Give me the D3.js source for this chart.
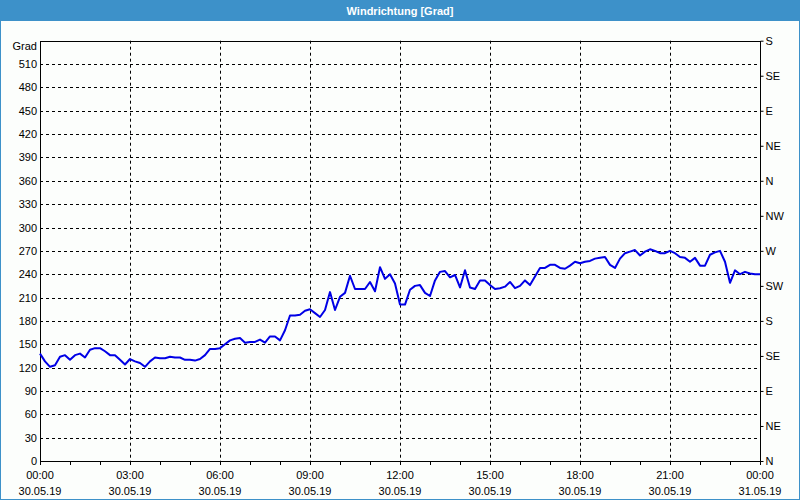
<!DOCTYPE html>
<html><head><meta charset="utf-8">
<script src="https://cdn.jsdelivr.net/npm/d3@7"></script>
<style>
html,body{margin:0;padding:0;background:#fff;}
svg{display:block;font-family:"Liberation Sans",Arial,sans-serif;}
</style></head><body>
<script>
// ---- data ----
const startTime = "2019-05-30T00:00:00";
const endTime = "2019-05-31T00:00:00";
const stepMinutes = 10;
const windDirection = [
138,128,121,123,134,136,130,136,138,133,143,145,145,141,136,136,130,124,131,128,126,121,128,133,132,
132,134,133,133,130,130,129,131,136,144,144,145,150,155,157,158,152,153,153,156,152,160,160,155,168,
187,187,188,193,195,190,185,194,217,194,211,216,238,221,221,221,230,218,249,234,240,228,201,201,220,
225,226,216,212,232,243,244,236,239,223,245,223,221,232,232,226,221,222,224,230,222,225,232,226,237,
248,248,252,252,248,247,251,256,254,256,257,260,261,262,252,248,260,267,269,271,264,269,272,270,267,
267,270,267,262,261,256,261,251,251,265,268,270,256,229,245,240,243,241,240,240];
const leftTicks = [0,30,60,90,120,150,180,210,240,270,300,330,360,390,420,450,480,510];
const rightTicks = [0,45,90,135,180,225,270,315,360,405,450,495,540];
const rightLabels = ["N","NE","E","SE","S","SW","W","NW","N","NE","E","SE","S"];
const title = "Windrichtung [Grad]";
const unitLabel = "Grad";

// ---- layout ----
const W = 800, H = 500;
const m = {left:40, right:760, top:40.7, bottom:461};
const svg = d3.select("body").append("svg").attr("width",W).attr("height",H);
svg.append("rect").attr("x",0).attr("y",0).attr("width",W).attr("height",H).attr("fill","#3d91c9");
svg.append("rect").attr("x",1).attr("y",21).attr("width",W-2).attr("height",H-22).attr("fill","#fcfefc");
svg.append("text").attr("x",W/2).attr("y",15).attr("text-anchor","middle")
  .attr("fill","#fff").attr("font-weight","bold").attr("font-size","11px").text(title);

const t0 = new Date(startTime), t1 = new Date(endTime);
const x = d3.scaleTime().domain([t0,t1]).range([m.left,m.right]);
const y = d3.scaleLinear().domain([0,540]).range([m.bottom,m.top]);
const data = windDirection.map((v,i)=>({t:new Date(t0.getTime()+i*stepMinutes*60000), v}));

const g = svg.append("g");
// grid
const majorTimes = d3.timeHour.every(3).range(t0, d3.timeMinute.offset(t1,1));
g.selectAll(".vg").data(majorTimes.filter(d=>+d>+t0 && +d<+t1)).enter().append("line")
  .attr("x1",d=>Math.round(x(d))+0.5).attr("x2",d=>Math.round(x(d))+0.5)
  .attr("y1",m.top).attr("y2",m.bottom)
  .attr("stroke","#000").attr("stroke-dasharray","3,3").attr("stroke-width",1);
g.selectAll(".hg").data(leftTicks.filter(d=>d>0)).enter().append("line")
  .attr("x1",m.left).attr("x2",m.right)
  .attr("y1",d=>Math.round(y(d))+0.5).attr("y2",d=>Math.round(y(d))+0.5)
  .attr("stroke","#000").attr("stroke-dasharray","3,3").attr("stroke-width",1);

// frame
g.append("rect").attr("x",m.left+0.5).attr("y",Math.round(m.top)+0.5)
  .attr("width",m.right-m.left).attr("height",m.bottom-Math.round(m.top))
  .attr("fill","none").attr("stroke","#000");

// left axis
const ly = d3.axisLeft(y).tickValues(leftTicks).tickSize(0).tickPadding(3);
const lax = svg.append("g").attr("transform",`translate(${m.left},0)`).call(ly);
lax.select(".domain").remove();
lax.selectAll("text").attr("font-size","11px").attr("fill","#000").attr("font-family","Liberation Sans, Arial, sans-serif");
svg.append("text").attr("x",37).attr("y",50).attr("text-anchor","end").attr("font-size","11px").text(unitLabel);

// right axis
const ry = d3.axisRight(y).tickValues(rightTicks).tickSize(3).tickPadding(2)
  .tickFormat((d,i)=>rightLabels[i]);
const rax = svg.append("g").attr("transform",`translate(${m.right+0.5},0)`).call(ry);
rax.select(".domain").remove();
rax.selectAll("line").attr("stroke","#000");
rax.selectAll("text").attr("font-size","11px").attr("fill","#000").attr("font-family","Liberation Sans, Arial, sans-serif");

// bottom axis: minor ticks hourly
const hours = d3.timeHour.every(1).range(t0, d3.timeMinute.offset(t1,1));
svg.selectAll(".mt").data(hours).enter().append("line")
  .attr("x1",d=>Math.round(x(d))+0.5).attr("x2",d=>Math.round(x(d))+0.5)
  .attr("y1",m.bottom).attr("y2",m.bottom+4).attr("stroke","#000");
const fmtT = d3.timeFormat("%H:%M"), fmtD = d3.timeFormat("%d.%m.%y");
const lbl = svg.selectAll(".bl").data(majorTimes).enter().append("text")
  .attr("x",d=>x(d)).attr("text-anchor","middle").attr("font-size","11px").attr("fill","#000");
lbl.append("tspan").attr("x",d=>x(d)).attr("y",479).text(d=>fmtT(d));
lbl.append("tspan").attr("x",d=>x(d)).attr("y",495).text(d=>fmtD(d));

// line
const line = d3.line().x(d=>x(d.t)).y(d=>y(d.v));
svg.append("path").datum(data).attr("d",line).attr("fill","none")
  .attr("stroke","#0000e6").attr("stroke-width",2).attr("stroke-linejoin","round");
</script>
</body></html>
